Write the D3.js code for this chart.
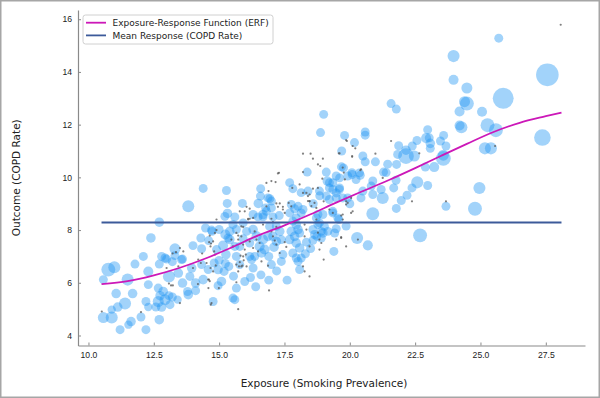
<!DOCTYPE html>
<html>
<head>
<meta charset="utf-8">
<script src="https://cdn.jsdelivr.net/npm/d3@7/dist/d3.min.js"></script>
<style>
    body { margin: 0; background: #fff; }
    svg { display: block; font-family: "DejaVu Sans", sans-serif; }
    .axis path, .axis line { stroke: #8a8a8a; }
    .axis text { fill: #222; font-size: 8.6px; }
</style>
</head>
<body>
<svg id="chart" width="600" height="398"></svg>
<script>
// county sites: [exposure, outcome, population weight]
const sites = [
    // exposure 10.5 - 12.5
    [10.57,6.12,12],[10.76,6.50,36],[10.99,6.59,25],[11.50,6.12,25],[11.78,6.71,12],[12.10,7.00,12],
    [12.39,7.70,14],[12.29,6.43,16],[11.06,5.59,14],[11.69,5.59,14],[11.40,5.21,25],[11.12,5.08,14],
    [10.89,4.98,10],[10.57,4.68,20],[10.89,4.68,25],[12.01,4.70,12],[12.20,5.29,12],[12.29,5.08,10],
    [12.29,5.93,12],[11.63,4.53,14],[11.53,4.41,10],[11.21,4.22,12],[12.20,4.22,12],
    // 12.5 - 14.5
    [12.58,5.08,12],[12.67,5.29,20],[12.74,5.51,14],[12.67,5.80,12],[12.86,5.67,14],[12.93,5.36,20],
    [12.80,5.08,14],[13.12,5.17,12],[13.08,5.51,12],[13.21,5.46,12],[13.41,5.36,10],[13.82,5.55,14],
    [13.79,5.67,12],[14.10,5.70,12],[12.71,4.60,14],[12.71,8.30,14],[13.82,8.90,25],[12.71,6.71,12],
    [12.80,7.00,12],[12.99,6.90,12],[13.31,7.29,20],[13.31,7.03,12],[13.21,6.80,12],[13.60,6.90,12],
    [14.00,7.41,12],[14.30,7.70,12],[14.48,8.08,12],[13.08,6.24,25],[13.44,6.37,14],[13.60,5.99,14],
    [13.95,6.56,14],[13.88,6.24,12],[14.10,5.99,14],[14.33,6.69,12],[14.39,6.12,14],[14.39,9.58,12],
    [14.33,7.29,12],[12.93,6.94,12],[13.56,6.88,12],
    // 14.5 - 16
    [14.58,6.50,12],[14.81,6.75,12],[14.96,6.50,14],[15.19,6.43,12],[15.09,6.05,14],[14.96,5.89,12],
    [15.24,6.73,12],[15.37,6.62,12],[15.53,5.42,12],[14.77,5.29,12],[14.73,7.95,12],[15.24,7.83,16],
    [15.15,7.41,16],[15.34,7.70,12],[15.60,7.38,12],[15.28,9.50,12],[15.31,9.01,12],[15.89,9.01,12],
    [15.32,8.63,14],[15.22,8.52,12],[15.60,8.50,12],[14.71,8.00,12],[15.00,8.02,12],[15.41,7.95,14],
    [15.53,8.21,12],[15.41,7.64,14],[14.90,7.26,12],[15.26,7.07,14],[15.79,7.38,12],[15.92,7.67,12],
    [16.05,7.95,12],[15.66,7.00,12],[15.79,6.69,12],[15.66,5.80,12],[15.98,6.05,12],[15.60,5.36,12],
    [15.55,6.25,12],[15.92,8.27,12],[15.66,8.02,12],[15.00,6.85,12],[14.60,7.60,12],
    // 16 - 17.5
    [16.59,9.57,12],[16.50,9.01,14],[16.94,9.19,12],[17.00,9.10,12],[16.30,8.59,12],[16.68,8.59,14],
    [16.78,8.84,12],[16.58,9.29,12],[16.87,9.22,12],[17.00,8.84,12],[16.81,8.71,12],[16.68,8.50,12],
    [16.49,8.50,12],[17.06,8.50,12],[17.19,8.14,12],[16.93,8.14,12],[17.32,7.95,14],[17.06,7.76,14],
    [16.87,7.76,14],[17.19,7.57,14],[17.38,7.64,12],[16.17,7.51,12],[16.30,8.02,14],[16.43,7.76,16],
    [16.55,7.38,16],[16.68,7.64,16],[16.62,7.13,14],[16.74,7.26,16],[16.36,7.00,12],[16.17,7.00,12],
    [16.30,6.56,12],[17.00,6.69,12],[17.38,6.81,12],[17.44,7.07,12],[16.24,6.88,12],[16.90,7.00,12],
    [17.10,7.35,14],[16.60,6.30,12],[16.20,6.20,12],[16.90,6.10,12],[17.20,6.45,12],[16.40,5.85,12],
    [17.30,8.55,12],
    // 17.5 - 19
    [17.70,9.80,12],[17.82,9.57,12],[18.14,9.42,12],[18.40,9.48,12],[18.37,10.20,12],[18.84,9.48,12],
    [18.88,11.70,12],[17.70,8.65,12],[17.82,8.34,12],[17.95,8.21,14],[18.02,8.02,14],[17.76,7.95,14],
    [17.89,7.76,14],[18.08,7.89,12],[17.70,7.64,14],[17.95,7.51,14],[18.08,7.32,14],[17.82,7.13,12],
    [17.95,6.94,12],[18.14,6.94,12],[18.02,6.81,12],[17.76,8.97,12],[17.89,8.81,12],[18.02,8.90,12],
    [18.14,8.65,12],[17.95,8.46,12],[18.21,8.78,12],[18.78,8.59,12],[18.72,8.46,12],[18.84,8.27,12],
    [18.59,8.02,12],[18.97,7.89,14],[18.74,7.76,12],[18.97,8.59,12],[18.78,8.21,12],[18.91,7.95,12],
    [18.91,7.70,12],[18.65,7.83,12],[18.59,7.61,12],[18.34,7.54,12],[18.08,6.50,12],[17.60,6.10,12],
    [18.30,7.10,12],[18.50,7.30,12],[18.60,9.00,12],[18.85,9.30,12],
    // 19 - 20.5
    [19.80,11.59,12],[20.18,11.32,12],[19.69,11.00,12],[19.00,12.39,12],[19.10,10.20,12],[19.14,9.86,14],
    [19.22,9.80,12],[19.61,9.98,12],[19.92,10.05,12],[20.09,10.11,12],[20.24,9.92,12],[20.37,10.17,12],
    [19.68,10.40,12],[19.76,10.36,12],[20.08,10.18,12],[19.48,10.05,12],[19.35,9.80,12],[19.60,9.54,12],
    [19.48,9.22,12],[19.92,9.22,12],[19.10,9.29,12],[19.22,9.16,12],[19.35,9.54,12],[19.48,9.41,12],
    [19.22,9.60,12],[19.61,9.60,12],[19.73,9.22,12],[19.35,8.65,12],[19.54,8.46,12],[19.58,8.40,12],
    [19.35,8.71,12],[19.16,7.95,12],[19.48,8.05,12],[19.42,7.89,12],[19.03,8.14,12],[19.86,8.15,12],
    [19.39,7.19,12],[20.50,9.48,12],[20.43,9.22,12],[20.00,9.00,12],
    // 20.5 and above
    [20.50,10.81,12],[20.59,10.59,12],[20.98,10.59,12],[21.45,10.50,12],[21.79,10.49,12],[20.40,10.08,12],
    [21.29,10.20,12],[22.89,10.39,12],[23.23,10.39,16],[21.77,9.89,12],[22.58,9.81,25],[22.98,9.69,12],
    [24.96,9.60,25],[20.59,11.72,12],[20.59,11.60,12],[21.58,12.80,12],[21.78,12.59,12],[22.98,11.81,12],
    [22.92,11.49,16],[23.04,11.50,12],[23.59,11.59,12],[23.47,11.38,12],[23.68,11.19,12],[23.08,11.29,14],
    [23.08,11.10,12],[22.57,11.40,12],[21.87,11.20,12],[22.15,11.03,14],[22.39,11.19,12],[22.15,10.81,49],
    [22.47,10.81,20],[23.58,10.72,42],[23.58,10.84,20],[25.17,11.10,25],[25.40,11.10,25],[24.20,12.50,16],
    [25.06,12.49,16],[24.20,11.97,16],[24.27,11.90,25],[25.27,11.98,36],[25.59,11.79,36],[27.37,11.51,56],
    [25.70,15.28,12],[23.97,14.60,25],[27.56,13.89,121],[23.97,13.70,16],[24.48,13.39,20],[25.87,13.00,100],
    [24.39,12.87,20],[24.48,12.80,36],[22.19,9.32,12],[21.26,9.22,25],[21.97,9.12,12],[21.78,8.82,12],
    [20.88,8.62,30],[23.68,8.90,12],[22.69,7.80,36],[20.28,7.70,25],[20.69,7.42,16],[21.68,9.60,12],
    [22.38,9.60,12],[21.20,9.54,12],[20.82,9.67,12],[20.88,9.86,12],[21.39,10.18,12],[21.83,10.87,12],
    [20.88,9.35,12],[24.79,8.81,36]
];

// raw observations: [exposure, outcome]
const observations = [
    [28.07,15.79],[21.58,11.38],[19.89,11.38],[20.11,11.19],[20.21,11.10],[20.09,10.81],[20.98,10.90],
    [18.21,10.90],[18.50,10.90],[18.59,10.71],[18.97,10.71],[18.78,10.49],[18.87,10.43],[18.21,10.20],
    [19.61,10.91],[19.73,10.37],[19.77,10.18],[19.81,9.92],[20.40,10.27],[22.66,10.91],[25.56,11.19],
    [18.34,9.41],[18.46,9.35],[17.29,10.17],[17.00,9.86],[17.16,9.82],[16.81,9.79],[16.89,9.48],
    [17.80,9.60],[19.86,11.41],[18.95,9.95],[18.08,9.73],[18.21,9.41],[18.40,9.29],[18.59,9.57],
    [18.78,9.60],[18.40,9.10],[18.46,9.10],[18.53,8.91],[17.19,9.01],[17.32,9.01],[17.25,8.88],
    [17.44,8.88],[15.79,8.71],[15.98,8.71],[16.11,8.43],[16.17,8.43],[15.85,8.14],[15.92,8.12],
    [17.00,8.43],[17.06,8.30],[17.19,8.12],[17.00,7.95],[17.06,7.76],[17.13,7.60],[17.19,7.45],
    [17.51,7.54],[17.57,7.36],[16.36,7.95],[16.43,7.64],[16.55,7.51],[16.49,7.19],[16.62,6.81],
    [16.87,6.65],[15.85,7.76],[15.92,7.45],[15.98,7.26],[15.92,7.00],[15.79,6.78],[15.66,6.69],
    [15.85,6.62],[16.05,6.62],[18.27,8.21],[18.34,8.02],[18.72,8.40],[18.78,7.90],[18.84,7.64],
    [19.22,8.78],[19.35,8.65],[19.67,7.70],[19.48,7.64],[19.86,7.38],[18.27,7.76],[18.46,7.38],
    [18.84,7.26],[19.00,6.88],[17.32,7.13],[18.21,6.62],[13.22,7.11],[13.35,7.16],[13.08,5.97],
    [13.16,5.90],[13.23,5.90],[13.50,5.23],[14.19,5.95],[14.58,6.12],[14.59,5.80],[14.64,6.06],
    [14.67,6.56],[14.77,6.43],[14.87,6.66],[14.81,7.19],[14.77,7.57],[14.64,7.79],[14.84,7.89],
    [14.90,8.00],[15.73,7.64],[15.82,7.03],[15.76,6.62],[15.73,6.43],[15.89,6.65],[15.94,6.85],
    [16.02,7.07],[16.30,7.32],[16.17,7.57],[15.66,6.02],[15.73,5.00],[14.68,5.17],[16.91,5.71],
    [16.30,8.46],[16.11,8.40],[17.44,8.78],[17.51,8.65],[17.66,9.03],[17.76,8.90],[16.81,8.90],
    [16.68,8.21],[10.51,4.91],[12.01,4.89],[18.46,9.09],[18.65,9.03],[18.72,8.84],[19.00,9.09],
    [19.86,8.97],[20.05,8.65],[19.67,8.55],[19.73,8.40],[19.67,7.73],[20.31,7.64],[18.91,7.51],
    [18.27,6.43],[18.46,6.24],[23.68,9.09],[19.58,10.91],[20.09,10.78],[20.43,10.30],[20.05,9.22],
    [19.86,9.09],[19.92,9.03],[20.11,8.71],[19.73,8.59],[21.26,9.98],[22.38,9.09],[14.35,7.11],
    [14.62,7.54],[14.69,7.49],[14.61,6.12],[14.99,5.80],[14.71,5.23],[17.25,10.15],[16.05,8.88],
    [16.17,8.81],[14.90,8.40],[15.66,7.89],[15.73,7.79],[15.47,7.64],[15.53,7.38],[14.67,7.38],
    [14.84,7.07],[14.52,6.75],[14.20,6.88],[14.30,6.75],[13.50,7.32],[13.63,7.19],[12.99,6.56],
    [13.44,6.62],[14.00,6.56]
];

// exposure-response function
const erfExposure = [10.5, 11.5, 12.5, 13.5, 14.5, 15.5, 16.5, 17.5, 18.5, 19.5, 20.5, 21.5, 22.5, 23.5, 24.5, 25.5, 26.5, 27.5, 28.1];
const erfOutcome  = [5.95, 6.06, 6.28, 6.57, 6.93, 7.35, 7.80, 8.18, 8.60, 9.05, 9.48, 9.90, 10.35, 10.82, 11.28, 11.72, 12.07, 12.32, 12.46];

const meanOutcome = 8.29;
const exposureRange = [10.5, 28.1];

const xTicks = [10, 12.5, 15, 17.5, 20, 22.5, 25, 27.5];
const yTicks = [4, 6, 8, 10, 12, 14, 16];

const svg = d3.select("#chart");
const width = 600, height = 398;

// outer frame
svg.append("rect")
    .attr("x", 0.75).attr("y", 0.75)
    .attr("width", width - 1.5).attr("height", height - 1.5)
    .attr("fill", "#fff")
    .attr("stroke", "#a6a6a6")
    .attr("stroke-width", 1.5);

const plot = { left: 78, right: 585, top: 10, bottom: 345.5 };

const x = d3.scaleLinear().domain([9.6, 29.0]).range([plot.left, plot.right]);
const y = d3.scaleLinear().domain([3.62, 16.35]).range([plot.bottom, plot.top]);
const r = d3.scalePow().exponent(0.4).domain([0, 121]).range([0, 11.3]);

// scatter of county sites
svg.append("g")
    .selectAll("circle")
    .data(sites)
    .enter().append("circle")
    .attr("cx", d => x(d[0]))
    .attr("cy", d => y(d[1]))
    .attr("r", d => r(d[2]))
    .attr("fill", "#2196f3")
    .attr("fill-opacity", 0.42);

// raw observations
svg.append("g")
    .selectAll("circle")
    .data(observations)
    .enter().append("circle")
    .attr("cx", d => x(d[0]))
    .attr("cy", d => y(d[1]))
    .attr("r", 1.1)
    .attr("fill", "#555")
    .attr("fill-opacity", 0.75);

// mean response
svg.append("line")
    .attr("x1", x(exposureRange[0]))
    .attr("x2", x(exposureRange[1]))
    .attr("y1", y(meanOutcome))
    .attr("y2", y(meanOutcome))
    .attr("stroke", "#3c5a9a")
    .attr("stroke-width", 2);

// ERF curve
const erfLine = d3.line()
    .x(d => x(d[0]))
    .y(d => y(d[1]))
    .curve(d3.curveMonotoneX);

svg.append("path")
    .datum(erfExposure.map((e, i) => [e, erfOutcome[i]]))
    .attr("d", erfLine)
    .attr("fill", "none")
    .attr("stroke", "#cc18b8")
    .attr("stroke-width", 1.8);

// axes (ticks point inward)
const xAxis = svg.append("g")
    .attr("class", "axis")
    .attr("transform", `translate(0,${plot.bottom})`)
    .call(d3.axisBottom(x).tickValues(xTicks).tickFormat(d3.format(".1f")).tickSize(-3).tickSizeOuter(0).tickPadding(5));
xAxis.selectAll("text").attr("dy", "0.9em");

svg.append("g")
    .attr("class", "axis")
    .attr("transform", `translate(${plot.left},0)`)
    .call(d3.axisLeft(y).tickValues(yTicks).tickFormat(d3.format("d")).tickSize(-3).tickSizeOuter(0).tickPadding(6));

svg.selectAll(".axis path").attr("stroke-width", 1.2);

// axis labels
svg.append("text")
    .attr("x", 324)
    .attr("y", 387)
    .attr("text-anchor", "middle")
    .attr("font-size", "10.5px")
    .attr("fill", "#222")
    .text("Exposure (Smoking Prevalence)");

svg.append("text")
    .attr("transform", `translate(20,${(plot.top + plot.bottom) / 2}) rotate(-90)`)
    .attr("text-anchor", "middle")
    .attr("font-size", "10.5px")
    .attr("fill", "#222")
    .text("Outcome (COPD Rate)");

// legend
const legendItems = [
    { label: "Exposure-Response Function (ERF)", color: "#cc18b8" },
    { label: "Mean Response (COPD Rate)", color: "#3c5a9a" }
];
const legend = svg.append("g").attr("transform", "translate(83,15)");
legend.append("rect")
    .attr("width", 190).attr("height", 29)
    .attr("rx", 2.5)
    .attr("fill", "#fff").attr("fill-opacity", 0.85)
    .attr("stroke", "#d0d0d0");
legendItems.forEach((item, i) => {
    const g = legend.append("g").attr("transform", `translate(0,${7.7 + i * 12.7})`);
    g.append("line")
        .attr("x1", 3).attr("x2", 23)
        .attr("stroke", item.color).attr("stroke-width", 1.8);
    g.append("text")
        .attr("x", 29.5).attr("y", 3.2)
        .attr("font-size", "9px")
        .attr("fill", "#222")
        .text(item.label);
});
</script>
</body>
</html>
